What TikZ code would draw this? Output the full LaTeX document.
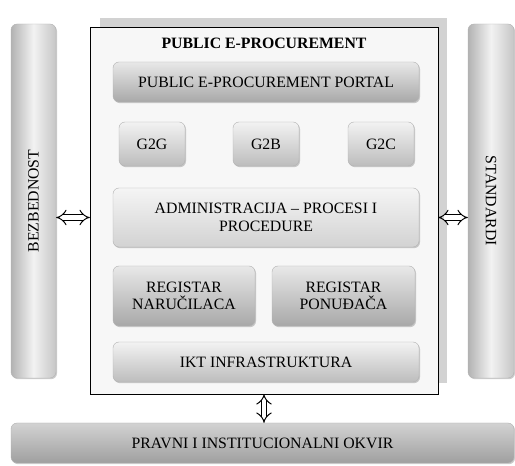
\documentclass[tikz,border=0pt]{standalone}
\usepackage{fontspec}
\setmainfont{Liberation Serif}
\usepackage{tikz}
\usetikzlibrary{arrows.meta,shadows,positioning}

\tikzset{
  layer/.style={rounded corners=6pt, draw=gray!60, thin, align=center, font=\fontsize{15.8}{17.5}\selectfont,
    drop shadow={shadow xshift=1pt, shadow yshift=-1.2pt, opacity=0.4}},
  darklayer/.style={layer, top color=gray!18, bottom color=gray!68},
  midlayer/.style={layer, top color=gray!10, bottom color=gray!52},
  lightlayer/.style={layer, top color=gray!8, bottom color=gray!35},
  pillar/.style={layer, left color=gray!60, right color=gray!45, middle color=gray!10},
  hollow/.style={draw=black, double=white, double distance=4.5pt, line width=1pt,
    {Implies[length=6pt, width=15pt]}-{Implies[length=6pt, width=15pt]}}
}

\begin{document}
\begin{tikzpicture}[x=1pt, y=1pt]
   \useasboundingbox (0,0) rectangle (515,466);
   % frame of the system
   \fill[gray!35] (100,83) rectangle (447,448);
   \node (sys) [draw=black, fill=gray!6, minimum width=348, minimum height=367, inner sep=0pt] at (264,255.5) {};
   \node (title) at (264,423) {\fontsize{15.8}{17.5}\selectfont\bfseries PUBLIC E-PROCUREMENT};
   \begin{scope}[every node/.style={inner sep=2pt}]
    \node (portal) [darklayer, minimum width=306, minimum height=40] at (266,384) {PUBLIC E-PROCUREMENT PORTAL};
    \node (g2g) [midlayer, minimum width=66, minimum height=44] at (152,322) {G2G};
    \node (g2b) [midlayer, minimum width=66, minimum height=44] at (266,322) {G2B};
    \node (g2c) [midlayer, minimum width=66, minimum height=44] at (381,322) {G2C};
    \node (admin) [lightlayer, minimum width=306, minimum height=59] at (266,248.5) {ADMINISTRACIJA -- PROCESI I\\PROCEDURE};
    \node (regn) [darklayer, minimum width=142, minimum height=60] at (184,170) {REGISTAR\\NARUČILACA};
    \node (regp) [darklayer, minimum width=143, minimum height=60] at (343.5,170) {REGISTAR\\PONUĐAČA};
    \node (ikt) [midlayer, minimum width=306, minimum height=40] at (266,104) {IKT INFRASTRUKTURA};
    \node (bez) [pillar, minimum width=354, minimum height=45, rotate=90] at (33.5,265) {BEZBEDNOST};
    \node (std) [pillar, minimum width=354, minimum height=46, rotate=-90] at (491,265) {STANDARDI};
    \node (okvir) [darklayer, top color=gray!35, bottom color=gray!75, minimum width=503, minimum height=40] at (262.5,23) {PRAVNI I INSTITUCIONALNI OKVIR};
   \end{scope}
   \draw[hollow] (bez.south |- admin) -- (sys.west |- admin);
   \draw[hollow] (sys.east |- admin) -- (std.south |- admin);
   \draw[hollow] (sys.south) -- (sys.south |- okvir.north);
\end{tikzpicture}
\end{document}
